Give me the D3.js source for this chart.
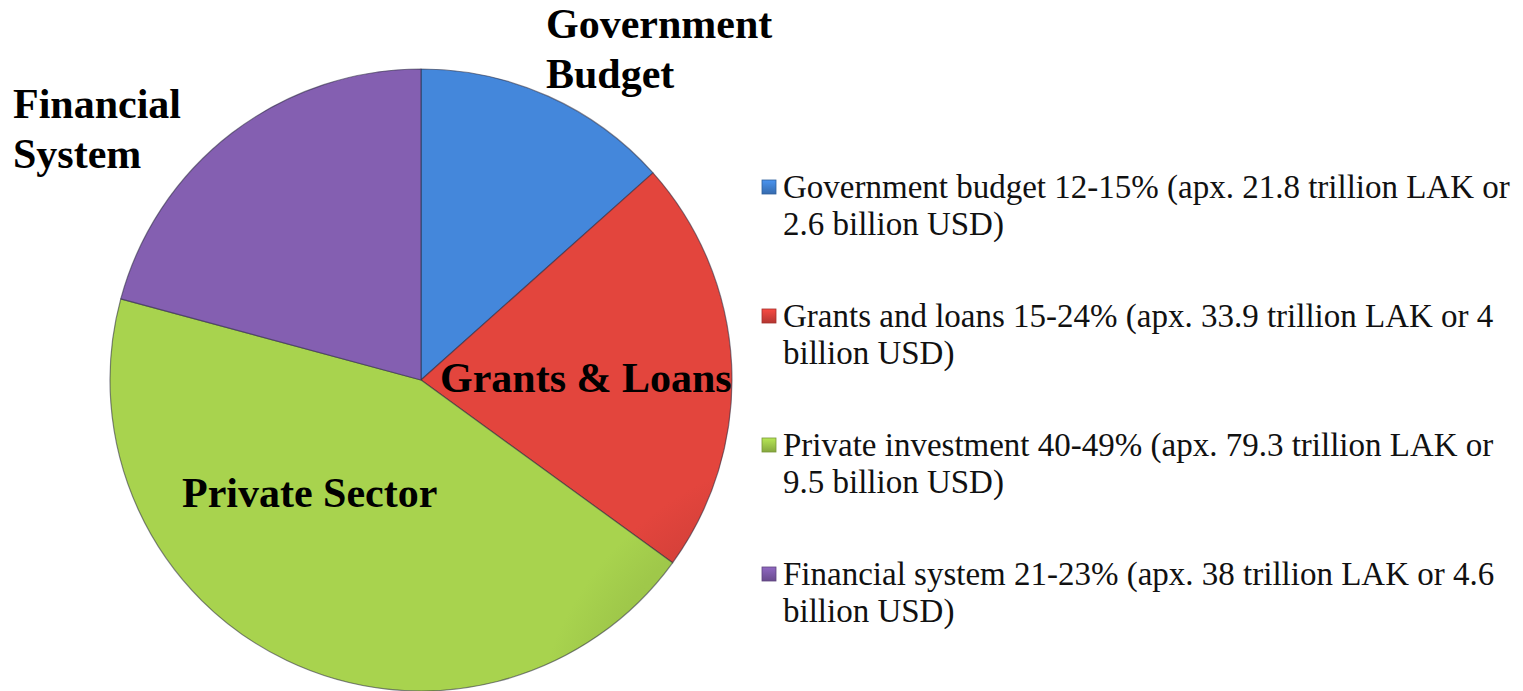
<!DOCTYPE html>
<html>
<head>
<meta charset="utf-8">
<script src="https://cdn.jsdelivr.net/npm/d3@7"></script>
<style>
  html, body { margin: 0; padding: 0; background: #ffffff; }
  svg { display: block; }
  .serif { font-family: "Liberation Serif", "Times New Roman", serif; }
</style>
</head>
<body>
<svg id="chart" width="1523" height="691"></svg>
<script>
// ---- data ----
const categories = ["Government budget", "Grants and loans", "Private investment", "Financial system"];
const shares = [13.4, 21.6, 44.2, 20.8];           // slice shares (%)
const sliceLabels = [["Government", "Budget"], ["Grants & Loans"], ["Private Sector"], ["Financial", "System"]];
const legendLabels = [
  ["Government budget 12-15% (apx. 21.8 trillion LAK or", "2.6 billion USD)"],
  ["Grants and loans 15-24% (apx. 33.9 trillion LAK or 4", "billion USD)"],
  ["Private investment 40-49% (apx. 79.3 trillion LAK or", "9.5 billion USD)"],
  ["Financial system 21-23% (apx. 38 trillion LAK or 4.6", "billion USD)"]
];
const colors = ["#4080d0", "#d7413a", "#9fc84a", "#7d5aa8"];

// ---- layout ----
const cx = 421, cy = 380, R = 311;
const labelPos = [
  { x: 546, y: 38 },
  { x: 440, y: 392 },
  { x: 182, y: 507 },
  { x: 13, y: 118 }
];
const labelLineH = 50;
const legendX = 762, legendY0 = 187, legendStep = 129, legendLineH = 37;

const svg = d3.select("#chart");
const defs = svg.append("defs");

colors.forEach((c, i) => {
  const g = defs.append("radialGradient")
    .attr("id", "grad" + i)
    .attr("gradientUnits", "userSpaceOnUse")
    .attr("cx", cx).attr("cy", cy).attr("r", R);
  const base = d3.color(c);
  g.append("stop").attr("offset", "0%").attr("stop-color", base.darker(0.12));
  g.append("stop").attr("offset", "85%").attr("stop-color", base);
  g.append("stop").attr("offset", "100%").attr("stop-color", base.brighter(0.15));
});

const pie = d3.pie().sort(null).value(d => d)(shares);
const arc = d3.arc().innerRadius(0).outerRadius(R);

const pieG = svg.append("g").attr("transform", `translate(${cx},${cy})`);
pieG.selectAll("path.slice")
  .data(pie)
  .join("path")
  .attr("class", "slice")
  .attr("d", arc)
  .attr("fill", (d, i) => `url(#grad${i})`)
  .attr("stroke", "rgba(40,40,60,0.55)")
  .attr("stroke-width", 1.2)
  .attr("stroke-linejoin", "round");

// slice labels
sliceLabels.forEach((lines, i) => {
  const t = svg.append("text")
    .attr("class", "serif")
    .attr("x", labelPos[i].x)
    .attr("y", labelPos[i].y)
    .attr("font-weight", "bold")
    .attr("font-size", 42)
    .attr("fill", "#000");
  lines.forEach((ln, j) => {
    t.append("tspan").attr("x", labelPos[i].x).attr("dy", j === 0 ? 0 : labelLineH).text(ln);
  });
});

// legend
const leg = svg.append("g");
categories.forEach((cat, i) => {
  const y = legendY0 + i * legendStep;
  const base = d3.color(colors[i]);
  const lg = defs.append("linearGradient").attr("id", "lg" + i)
    .attr("x1", 0).attr("y1", 0).attr("x2", 0).attr("y2", 1);
  lg.append("stop").attr("offset", "0%").attr("stop-color", base.brighter(0.4));
  lg.append("stop").attr("offset", "100%").attr("stop-color", base.darker(0.5));
  leg.append("rect")
    .attr("x", legendX).attr("y", y - 7)
    .attr("width", 14).attr("height", 14)
    .attr("fill", `url(#lg${i})`)
    .attr("stroke", base.darker(0.8))
    .attr("stroke-width", 0.8);
  const t = leg.append("text")
    .attr("class", "serif")
    .attr("x", legendX + 21)
    .attr("y", y + 11)
    .attr("font-size", 33)
    .attr("fill", "#111");
  legendLabels[i].forEach((ln, j) => {
    t.append("tspan").attr("x", legendX + 21).attr("dy", j === 0 ? 0 : legendLineH).text(ln);
  });
});
</script>
</body>
</html>
